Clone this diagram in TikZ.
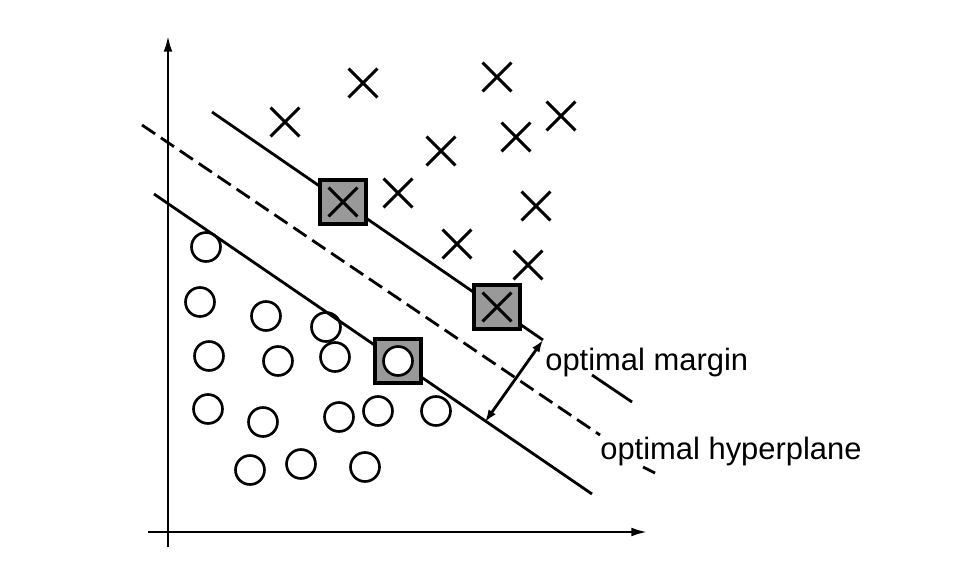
\documentclass[tikz,border=0pt]{standalone}
\usepackage{fontspec}
\setmainfont{Liberation Sans}
\usepackage{tikz}
\usetikzlibrary{shapes.misc, arrows.meta, positioning}

\begin{document}
\begin{tikzpicture}[
    x=0.02cm, y=-0.02cm,
    xmark/.style={cross out, draw, line width=1.7pt, minimum size=0.52cm, inner sep=0pt},
    omark/.style={circle, draw, line width=1.5pt, minimum size=0.58cm, inner sep=0pt},
    support/.style={rectangle, draw, fill=black!40, line width=1.9pt, minimum width=0.92cm, minimum height=0.88cm},
    axis/.style={line width=1.7pt, -{Latex[length=9.5pt,width=5pt]}},
    plane/.style={line width=1.6pt},
    margin/.style={line width=1.6pt, {Latex[length=7pt,width=5pt]}-{Latex[length=7pt,width=5pt]}},
    note/.style={anchor=base west, inner sep=0pt, font=\fontsize{17.6}{20}\selectfont}
  ]
  \useasboundingbox (0,0) rectangle (974,588);

  % axes
  \coordinate (ybot) at (168,547);
  \coordinate (ytop) at (168,35);
  \coordinate (xleft) at (148,532);
  \coordinate (xright) at (648,532);
  \draw [axis] (ybot) -- (ytop);
  \draw [axis] (xleft) -- (xright);

  % separating lines
  \coordinate (u1) at (212,112);
  \coordinate (mtop) at (543,340);
  \coordinate (u3) at (592,375);
  \coordinate (u4) at (632,402);
  \coordinate (h1) at (142,125);
  \coordinate (h2) at (600,435);
  \coordinate (h3) at (643,467);
  \coordinate (h4) at (655,473);
  \coordinate (l1) at (154,194);
  \coordinate (mbot) at (485,422);
  \coordinate (l2) at (592,494);
  \draw [plane] (u1) -- (mtop);
  \draw [plane] (u3) -- (u4);
  \draw [plane, dash pattern=on 9pt off 4pt] (h1) -- (h2);
  \draw [plane] (h3) -- (h4);
  \draw [plane] (l1) -- (l2);
  \draw [margin] (mtop) -- (mbot);

  % class one
  \node (x1) [xmark] at (363,83) {};
  \node (x2) [xmark] at (497,77) {};
  \node (x3) [xmark] at (285,122) {};
  \node (x4) [xmark] at (561,116) {};
  \node (x5) [xmark] at (516,137) {};
  \node (x6) [xmark] at (441,151) {};
  \node (x7) [xmark] at (398,193) {};
  \node (x8) [xmark] at (536,206) {};
  \node (x9) [xmark] at (457,244) {};
  \node (x10) [xmark] at (528,265) {};

  % class two
  \node (o1) [omark] at (206,247) {};
  \node (o2) [omark] at (200,302) {};
  \node (o3) [omark] at (266,316) {};
  \node (o4) [omark] at (326,327) {};
  \node (o5) [omark] at (209,356) {};
  \node (o6) [omark] at (278,361) {};
  \node (o7) [omark] at (335,357) {};
  \node (o8) [omark] at (208,409) {};
  \node (o9) [omark] at (263,422) {};
  \node (o10) [omark] at (339,417) {};
  \node (o11) [omark] at (378,411) {};
  \node (o12) [omark] at (436,411) {};
  \node (o13) [omark] at (250,470) {};
  \node (o14) [omark] at (301,464) {};
  \node (o15) [omark] at (365,467) {};

  % support vectors
  \node (sv1) [support] at (343,202) {};
  \node (sx1) [xmark] at (sv1) {};
  \node (sv2) [support] at (497,307) {};
  \node (sx2) [xmark] at (sv2) {};
  \node (sv3) [support] at (398,361) {};
  \node (so3) [omark, fill=white] at (sv3) {};

  \node (lmargin) [note] at (545,370) {optimal margin};
  \node (lplane) [note] at (600,459) {optimal hyperplane};
\end{tikzpicture}
\end{document}
